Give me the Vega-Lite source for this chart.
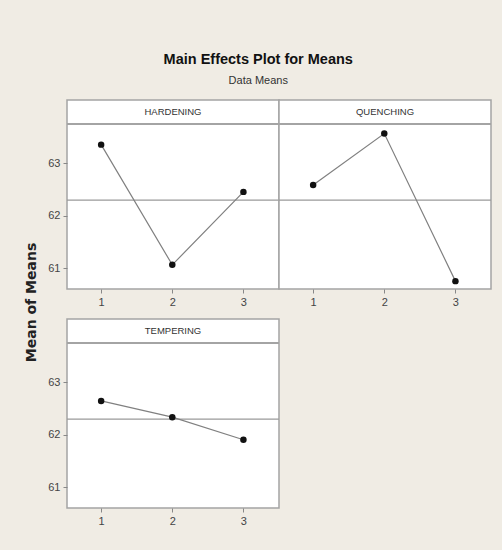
{
  "$schema": "https://vega.github.io/schema/vega-lite/v6.json",
  "background": "#f0ece4",
  "padding": {"left": 24, "top": 51, "right": 10, "bottom": 24},
  "title": {
    "text": "Main Effects Plot for Means",
    "subtitle": "Data Means",
    "font": "Liberation Sans",
    "fontSize": 14.5,
    "fontWeight": "bold",
    "color": "#111111",
    "subtitleFont": "Liberation Sans",
    "subtitleFontSize": 11,
    "subtitleColor": "#333333",
    "subtitlePadding": 8,
    "anchor": "middle",
    "offset": 12
  },
  "datasets": {
    "means": [
      {"factor": "HARDENING", "level": 1, "mean": 63.35},
      {"factor": "HARDENING", "level": 2, "mean": 61.06},
      {"factor": "HARDENING", "level": 3, "mean": 62.45},
      {"factor": "QUENCHING", "level": 1, "mean": 62.58},
      {"factor": "QUENCHING", "level": 2, "mean": 63.56},
      {"factor": "QUENCHING", "level": 3, "mean": 60.75},
      {"factor": "TEMPERING", "level": 1, "mean": 62.64},
      {"factor": "TEMPERING", "level": 2, "mean": 62.33},
      {"factor": "TEMPERING", "level": 3, "mean": 61.9}
    ]
  },
  "columns": 2,
  "spacing": {"row": 30, "column": 0},
  "bounds": "flush",
  "concat": [
    {
      "width": 212,
      "height": 189,
      "data": {"name": "means"},
      "layer": [
        {
          "mark": {"type": "rule", "color": "#a4a4a4", "strokeWidth": 1.5},
          "encoding": {"y": {"datum": 63.74, "type": "quantitative"}}
        },
        {
          "transform": [{"aggregate": [{"op": "mean", "field": "mean", "as": "grand"}], "groupby": []}],
          "mark": {"type": "rule", "color": "#9a9a9a", "strokeWidth": 1.2},
          "encoding": {"y": {"field": "grand", "type": "quantitative"}}
        },
        {
          "transform": [{"filter": "datum.factor === 'HARDENING'"}],
          "mark": {"type": "line", "color": "#808080", "strokeWidth": 1.2},
          "encoding": {
            "x": {"field": "level", "type": "quantitative", "scale": {"domain": [0.52, 3.5], "nice": false, "zero": false}, "axis": {"values": [1, 2, 3], "format": "d", "title": null}},
            "y": {"field": "mean", "type": "quantitative", "scale": {"domain": [60.6, 64.2], "nice": false, "zero": false}, "axis": {"values": [61, 62, 63], "format": "d", "title": "Mean of Means", "titleY": 202}}
          }
        },
        {
          "transform": [{"filter": "datum.factor === 'HARDENING'"}],
          "mark": {"type": "point", "filled": true, "shape": "circle", "size": 42, "color": "#111111", "opacity": 1},
          "encoding": {
            "x": {"field": "level", "type": "quantitative"},
            "y": {"field": "mean", "type": "quantitative"}
          }
        },
        {
          "data": {"values": [{"label": "HARDENING"}]},
          "mark": {"type": "text", "font": "Liberation Sans", "fontSize": 9.5, "color": "#333333", "baseline": "middle"},
          "encoding": {
            "x": {"datum": 2.01, "type": "quantitative"},
            "y": {"datum": 63.97, "type": "quantitative"},
            "text": {"field": "label"}
          }
        }
      ]
    },
    {
      "width": 212,
      "height": 189,
      "data": {"name": "means"},
      "layer": [
        {
          "mark": {"type": "rule", "color": "#a4a4a4", "strokeWidth": 1.5},
          "encoding": {"y": {"datum": 63.74, "type": "quantitative"}}
        },
        {
          "transform": [{"aggregate": [{"op": "mean", "field": "mean", "as": "grand"}], "groupby": []}],
          "mark": {"type": "rule", "color": "#9a9a9a", "strokeWidth": 1.2},
          "encoding": {"y": {"field": "grand", "type": "quantitative"}}
        },
        {
          "transform": [{"filter": "datum.factor === 'QUENCHING'"}],
          "mark": {"type": "line", "color": "#808080", "strokeWidth": 1.2},
          "encoding": {
            "x": {"field": "level", "type": "quantitative", "scale": {"domain": [0.52, 3.5], "nice": false, "zero": false}, "axis": {"values": [1, 2, 3], "format": "d", "title": null}},
            "y": {"field": "mean", "type": "quantitative", "scale": {"domain": [60.6, 64.2], "nice": false, "zero": false}, "axis": {"values": [61, 62, 63], "labels": false, "ticks": false, "title": null}}
          }
        },
        {
          "transform": [{"filter": "datum.factor === 'QUENCHING'"}],
          "mark": {"type": "point", "filled": true, "shape": "circle", "size": 42, "color": "#111111", "opacity": 1},
          "encoding": {
            "x": {"field": "level", "type": "quantitative"},
            "y": {"field": "mean", "type": "quantitative"}
          }
        },
        {
          "data": {"values": [{"label": "QUENCHING"}]},
          "mark": {"type": "text", "font": "Liberation Sans", "fontSize": 9.5, "color": "#333333", "baseline": "middle"},
          "encoding": {
            "x": {"datum": 2.01, "type": "quantitative"},
            "y": {"datum": 63.97, "type": "quantitative"},
            "text": {"field": "label"}
          }
        }
      ]
    },
    {
      "width": 212,
      "height": 189,
      "data": {"name": "means"},
      "layer": [
        {
          "mark": {"type": "rule", "color": "#a4a4a4", "strokeWidth": 1.5},
          "encoding": {"y": {"datum": 63.74, "type": "quantitative"}}
        },
        {
          "transform": [{"aggregate": [{"op": "mean", "field": "mean", "as": "grand"}], "groupby": []}],
          "mark": {"type": "rule", "color": "#9a9a9a", "strokeWidth": 1.2},
          "encoding": {"y": {"field": "grand", "type": "quantitative"}}
        },
        {
          "transform": [{"filter": "datum.factor === 'TEMPERING'"}],
          "mark": {"type": "line", "color": "#808080", "strokeWidth": 1.2},
          "encoding": {
            "x": {"field": "level", "type": "quantitative", "scale": {"domain": [0.52, 3.5], "nice": false, "zero": false}, "axis": {"values": [1, 2, 3], "format": "d", "title": null}},
            "y": {"field": "mean", "type": "quantitative", "scale": {"domain": [60.6, 64.2], "nice": false, "zero": false}, "axis": {"values": [61, 62, 63], "format": "d", "title": null}}
          }
        },
        {
          "transform": [{"filter": "datum.factor === 'TEMPERING'"}],
          "mark": {"type": "point", "filled": true, "shape": "circle", "size": 42, "color": "#111111", "opacity": 1},
          "encoding": {
            "x": {"field": "level", "type": "quantitative"},
            "y": {"field": "mean", "type": "quantitative"}
          }
        },
        {
          "data": {"values": [{"label": "TEMPERING"}]},
          "mark": {"type": "text", "font": "Liberation Sans", "fontSize": 9.5, "color": "#333333", "baseline": "middle"},
          "encoding": {
            "x": {"datum": 2.01, "type": "quantitative"},
            "y": {"datum": 63.97, "type": "quantitative"},
            "text": {"field": "label"}
          }
        }
      ]
    }
  ],
  "config": {
    "view": {"fill": "white", "stroke": "#a4a4a4", "strokeWidth": 1.5},
    "axis": {
      "grid": false,
      "domain": false,
      "tickColor": "#888888",
      "tickSize": 4,
      "labelColor": "#444444",
      "labelFont": "Liberation Sans",
      "labelFontSize": 11,
      "labelPadding": 3,
      "titleFont": "DejaVu Sans",
      "titleFontWeight": "bold",
      "titleFontSize": 14,
      "titleColor": "#222222",
      "titlePadding": 9
    }
  }
}
